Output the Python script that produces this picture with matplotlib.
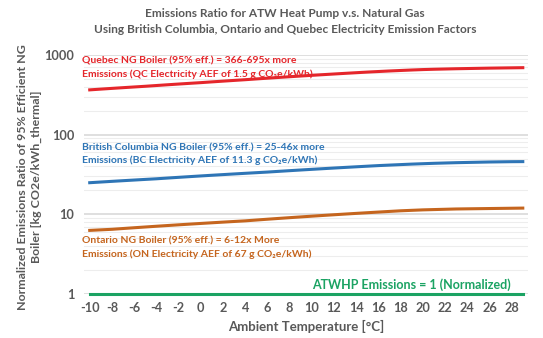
import numpy as np
import matplotlib
matplotlib.use("Agg")
from matplotlib import pyplot as plt
from matplotlib.ticker import FixedLocator, NullFormatter

plt.rcParams['font.family'] = ['Lato', 'DejaVu Sans']

# ambient temperature, one point per degree
temps = list(range(-10, 30))
tick_labels = [str(t) for t in range(-10, 30, 2)]

# emissions ratio of NG boiler vs ATWHP for each province
quebec = [366, 374, 382, 390, 398, 406, 415, 424, 433, 442,
          451, 461, 471, 481, 491, 502, 513, 524, 535, 546,
          557, 568, 579, 590, 601, 612, 622, 632, 641, 650,
          658, 664, 669, 674, 678, 682, 686, 689, 692, 695]
bc = [25, 25.5, 26, 26.5, 27, 27.5, 28, 28.6, 29.2, 29.8,
      30.4, 31, 31.6, 32.2, 32.8, 33.4, 34, 34.7, 35.4, 36.1,
      36.8, 37.5, 38.2, 38.9, 39.6, 40.3, 41, 41.6, 42.2, 42.8,
      43.3, 43.8, 44.2, 44.6, 44.9, 45.2, 45.5, 45.7, 45.9, 46]
ontario = [6.3, 6.4, 6.5, 6.65, 6.8, 6.95, 7.1, 7.25, 7.4, 7.55,
           7.7, 7.85, 8.0, 8.15, 8.3, 8.5, 8.7, 8.9, 9.1, 9.3,
           9.5, 9.7, 9.9, 10.1, 10.3, 10.5, 10.7, 10.9, 11.1, 11.25,
           11.4, 11.5, 11.6, 11.7, 11.75, 11.8, 11.85, 11.9, 11.95, 12.0]
atwhp = [1] * len(temps)

RED = '#E5262B'
BLUE = '#2E75B6'
ORANGE = '#C5651E'
GREEN = '#1BA363'
GREY = '#595959'

fig = plt.figure(figsize=(5.43, 3.38), dpi=100)
ax = fig.add_axes([0.155, 0.130, 0.818, 0.707])

x = np.arange(len(temps))
ax.plot(x, quebec, color=RED, lw=2.2, zorder=3)
ax.plot(x, bc, color=BLUE, lw=2.2, zorder=3)
ax.plot(x, ontario, color=ORANGE, lw=2.2, zorder=3)
ax.plot(x, atwhp, color=GREEN, lw=2.2, zorder=3, clip_on=False)

ax.set_yscale('log')
ax.set_ylim(1, 1000)
ax.set_xlim(-0.5, len(temps) - 0.5)

ax.yaxis.set_major_locator(FixedLocator([1, 10, 100, 1000]))
ax.set_yticklabels(['1', '10', '100', '1000'])
minors = [m * 10 ** d for d in range(0, 3) for m in range(2, 10)]
ax.yaxis.set_minor_locator(FixedLocator(minors))
ax.yaxis.set_minor_formatter(NullFormatter())
ax.grid(which='major', axis='y', color='#D9D9D9', lw=1.2)
ax.grid(which='minor', axis='y', color='#EDEDED', lw=0.8)
ax.set_axisbelow(True)

ax.set_xticks(x[::2])
ax.set_xticklabels(tick_labels)
ax.tick_params(axis='x', which='both', length=0, colors=GREY,
               labelsize=9.2, pad=6)
ax.tick_params(axis='y', which='both', length=0, colors=GREY,
               labelsize=9.2, pad=7)
for lab in ax.get_xticklabels() + ax.get_yticklabels():
    lab.set_fontweight('bold')

for s in ax.spines.values():
    s.set_visible(False)

ax.set_xlabel('Ambient Temperature [°C]', color=GREY, fontsize=9.5,
              fontweight='bold', labelpad=4)
ax.set_ylabel('Normalized Emissions Ratio of 95% Efficient NG\n'
              'Boiler [kg CO2e/kWh_thermal]', color=GREY, fontsize=8.9,
              fontweight='bold', linespacing=1.35)
ax.yaxis.set_label_coords(-0.095, 0.49)

fig.text(0.525, 0.935, 'Emissions Ratio for ATW Heat Pump v.s. Natural Gas\n'
         'Using British Columbia, Ontario and Quebec Electricity Emission Factors',
         ha='center', va='center', color=GREY, fontsize=8.6, fontweight='bold',
         linespacing=1.55)

# series labels
ax.text(-0.7, 690, 'Quebec NG Boiler (95% eff.) = 366-695x more\n'
        'Emissions (QC Electricity AEF of 1.5 g CO₂e/kWh)',
        color=RED, fontsize=7.5, fontweight='bold', va='center', linespacing=1.5)
ax.text(-0.7, 57, 'British Columbia NG Boiler (95% eff.) = 25-46x more\n'
        'Emissions (BC Electricity AEF of 11.3 g CO₂e/kWh)',
        color=BLUE, fontsize=7.5, fontweight='bold', va='center', linespacing=1.5)
ax.text(-0.7, 3.85, 'Ontario NG Boiler (95% eff.) = 6-12x More\n'
        'Emissions (ON Electricity AEF of 67 g CO₂e/kWh)',
        color=ORANGE, fontsize=7.5, fontweight='bold', va='center', linespacing=1.5)
ax.text(29.0, 1.33, 'ATWHP Emissions = 1 (Normalized)',
        color=GREEN, fontsize=9, fontweight='bold', ha='center', va='center')

fig.savefig('out.png', dpi=100)
